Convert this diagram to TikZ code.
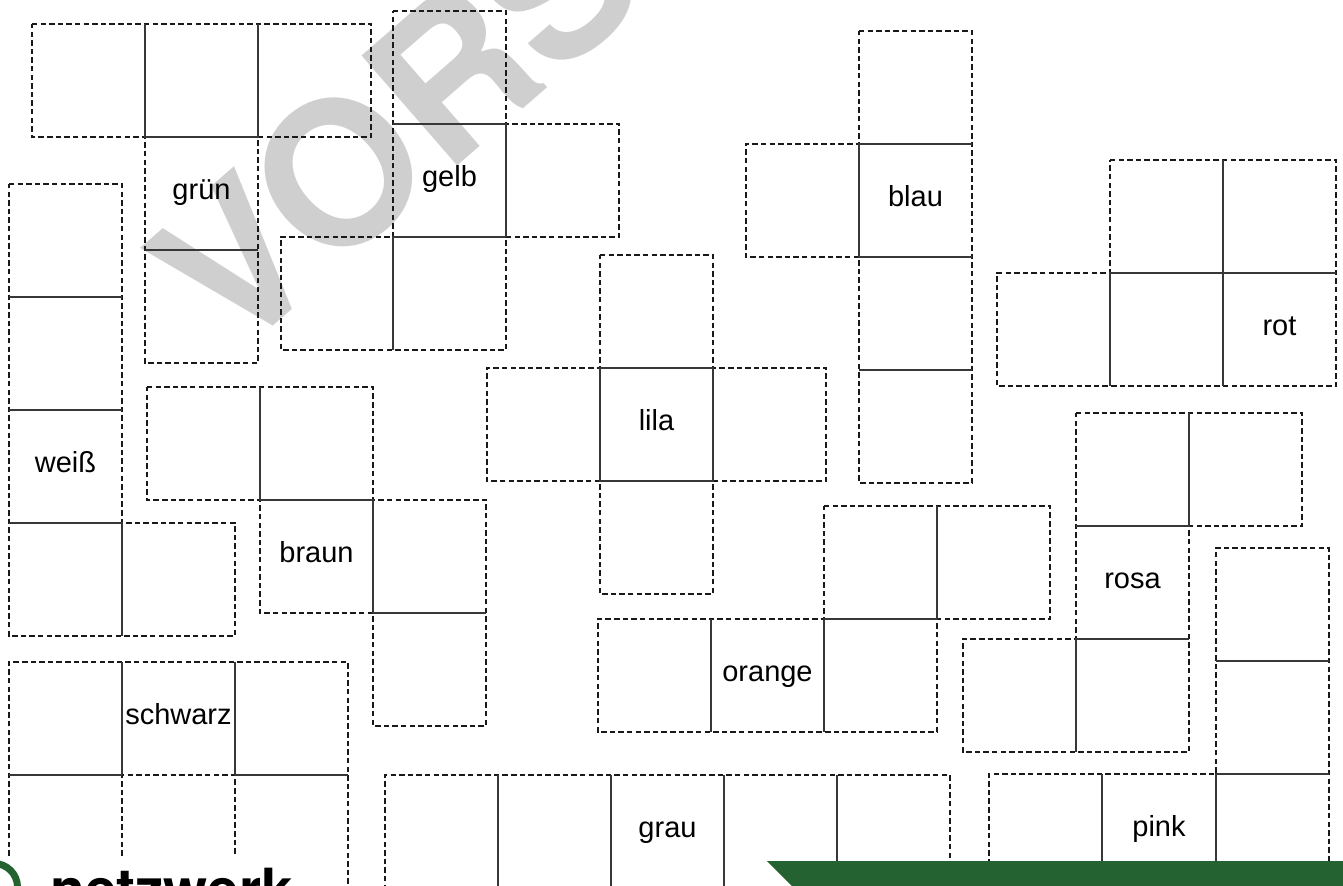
\documentclass[tikz,border=0pt]{standalone}
\usepackage{fontspec}
\usepackage{tikz}
\usepackage{xcolor}
\setmainfont{Liberation Sans}
\newfontfamily\stampfont{TeX Gyre Heros}
\usetikzlibrary{positioning,calc}
\definecolor{stampGray}{RGB}{207,207,207}
\definecolor{netzGreen}{RGB}{36,99,49}
\definecolor{foldGray}{RGB}{55,55,55}

\begin{document}
\begin{tikzpicture}[x=0.02cm, y=-0.02cm,
                    cut/.style={draw=black!90, line width=0.6pt, dash pattern=on 3.1pt off 1.8pt},
                    fold/.style={draw=foldGray, line width=0.75pt},
                    farbe/.style={font=\fontsize{16.5}{18}\selectfont, inner sep=0pt, text height=1.5ex, text depth=.25ex}]
                    \path[use as bounding box] (0,0) rectangle (1343,886);
                    \clip (0,0) rectangle (1343,886);
                    % watermark
                    \node[rotate=41, anchor=base west, inner sep=0pt, text=stampGray, font=\stampfont\bfseries\fontsize{113.8}{120}\selectfont] (stamp) at (232,362) {VORS};

                    % gruen
                    \draw[cut] (32,24) -- (371,24) -- (371,137) -- (258,137) -- (258,363) -- (145,363) -- (145,137) -- (32,137) -- cycle;
                    \draw[fold] (145,24) -- (145,137) -- (258,137) -- (258,24) (145,250) -- (258,250);
                    \node[farbe] (gruen) at (201.5,193.5) {grün};

                    % gelb
                    \draw[cut] (393,11) -- (506,11) -- (506,124) -- (619,124) -- (619,237) -- (506,237) -- (506,350) -- (281,350) -- (281,237) -- (393,237) -- cycle;
                    \draw[fold] (393,124) -- (506,124) -- (506,237) (393,350) -- (393,237) -- (506,237);
                    \node[farbe] (gelb) at (449.5,180.5) {gelb};

                    % weiss
                    \draw[cut] (9,184) -- (122,184) -- (122,523) -- (235,523) -- (235,636) -- (9,636) -- cycle;
                    \draw[fold] (9,297) -- (122,297) (9,410) -- (122,410) (9,523) -- (122,523) -- (122,636);
                    \node[farbe] (weiss) at (65.5,466.5) {weiß};

                    % braun
                    \draw[cut] (147,387) -- (373,387) -- (373,500) -- (486,500) -- (486,726) -- (373,726) -- (373,613) -- (260,613) -- (260,500) -- (147,500) -- cycle;
                    \draw[fold] (260,387) -- (260,500) -- (373,500) -- (373,613) -- (486,613);
                    \node[farbe] (braun) at (316.5,556.5) {braun};

                    % schwarz
                    \draw[cut] (9,890) -- (9,662) -- (348,662) -- (348,890);
                    \draw[cut] (122,890) -- (122,775) -- (235,775) -- (235,890);
                    \draw[fold] (122,662) -- (122,775) (235,662) -- (235,775) (9,775) -- (122,775) (235,775) -- (348,775);
                    \node[farbe] (schwarz) at (178.5,718.5) {schwarz};

                    % lila
                    \draw[cut] (600,255) -- (713,255) -- (713,368) -- (826,368) -- (826,481) -- (713,481) -- (713,594) -- (600,594) -- (600,481) -- (487,481) -- (487,368) -- (600,368) -- cycle;
                    \draw[fold] (600,368) rectangle (713,481);
                    \node[farbe] (lila) at (656.5,424.5) {lila};

                    % blau
                    \draw[cut] (859,31) -- (972,31) -- (972,483) -- (859,483) -- (859,257) -- (746,257) -- (746,144) -- (859,144) -- cycle;
                    \draw[fold] (972,144) -- (859,144) -- (859,257) -- (972,257) (859,370) -- (972,370);
                    \node[farbe] (blau) at (915.5,200.5) {blau};

                    % rot
                    \draw[cut] (1110,160) -- (1336,160) -- (1336,386) -- (997,386) -- (997,273) -- (1110,273) -- cycle;
                    \draw[fold] (1223,160) -- (1223,386) (1336,273) -- (1110,273) -- (1110,386);
                    \node[farbe] (rot) at (1279.5,329.5) {rot};

                    % rosa
                    \draw[cut] (1076,413) -- (1302,413) -- (1302,526) -- (1189,526) -- (1189,752) -- (963,752) -- (963,639) -- (1076,639) -- cycle;
                    \draw[fold] (1189,413) -- (1189,526) -- (1076,526) (1189,639) -- (1076,639) -- (1076,752);
                    \node[farbe] (rosa) at (1132.5,582.5) {rosa};

                    % orange
                    \draw[cut] (824,506) -- (1050,506) -- (1050,619) -- (937,619) -- (937,732) -- (598,732) -- (598,619) -- (824,619) -- cycle;
                    \draw[fold] (937,506) -- (937,619) -- (824,619) -- (824,732) (711,619) -- (711,732);
                    \node[farbe] (orange) at (767.5,675.5) {orange};

                    % pink
                    \draw[cut] (989,890) -- (989,774) -- (1216,774) -- (1216,548) -- (1329,548) -- (1329,890);
                    \draw[fold] (1216,661) -- (1329,661) (1216,890) -- (1216,774) -- (1329,774) (1102,774) -- (1102,890);
                    \node[farbe] (pink) at (1159,831) {pink};

                    % grau
                    \draw[cut] (385,890) -- (385,775) -- (950,775) -- (950,890);
                    \foreach \k in {498,611,724,837}
                        \draw[fold] (\k,775) -- (\k,890);
                    \node[farbe] (grau) at (667.5,831.5) {grau};

                    % logo and banner
                    \fill[white] (0,857) rectangle (308,890);
                    \draw[netzGreen, line width=0.14cm] (-6,887) circle (23.5);
                    \node[anchor=base west, inner sep=0pt, font=\stampfont\bfseries\fontsize{32.3}{36}\selectfont] (netz) at (50,909) {netzwerk};
                    \fill[netzGreen] (767,861) -- (1350,861) -- (1350,900) -- (806,900) -- cycle;
                \end{tikzpicture}
\end{document}
